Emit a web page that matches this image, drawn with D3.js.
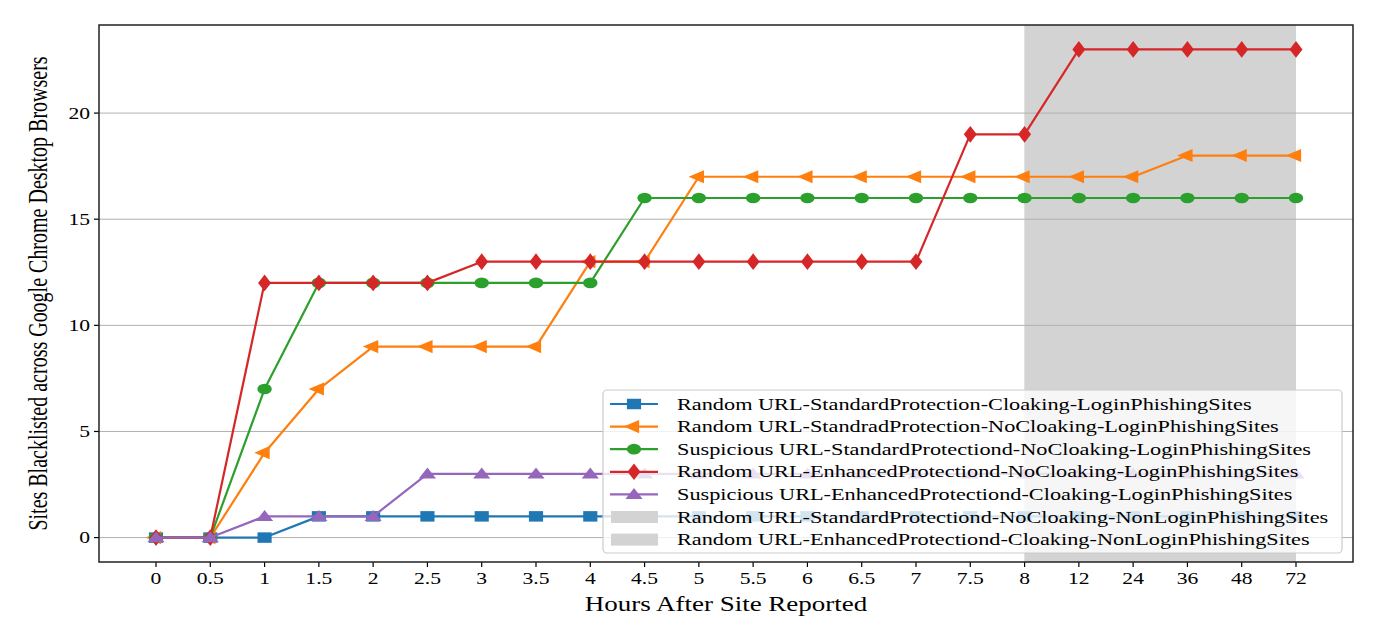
<!DOCTYPE html>
<html><head><meta charset="utf-8">
<script src="https://cdn.jsdelivr.net/npm/d3@7"></script>
<style>body{margin:0;background:#fff}svg{display:block}text{font-family:"Liberation Serif","Times New Roman",serif;fill:#000}</style>
</head><body><svg id="c" width="1373" height="634"></svg>
<script>
const xLabels = ["0","0.5","1","1.5","2","2.5","3","3.5","4","4.5","5","5.5","6","6.5","7","7.5","8","12","24","36","48","72"];
const yTicks = [0,5,10,15,20];
const seriesNames = [
  "Random URL-StandardProtection-Cloaking-LoginPhishingSites",
  "Random URL-StandradProtection-NoCloaking-LoginPhishingSites",
  "Suspicious URL-StandardProtectiond-NoCloaking-LoginPhishingSites",
  "Random URL-EnhancedProtectiond-NoCloaking-LoginPhishingSites",
  "Suspicious URL-EnhancedProtectiond-Cloaking-LoginPhishingSites"
];
const blueVals   = [0,0,0,1,1,1,1,1,1,1,1,1,1,1,1,1,1,1,1,1,1,1];
const orangeVals = [0,0,4,7,9,9,9,9,13,13,17,17,17,17,17,17,17,17,17,18,18,18];
const greenVals  = [0,0,7,12,12,12,12,12,12,16,16,16,16,16,16,16,16,16,16,16,16,16];
const redVals    = [0,0,12,12,12,12,13,13,13,13,13,13,13,13,13,19,19,23,23,23,23,23];
const purpleVals = [0,0,1,1,1,3,3,3,3,3,3,3,3,3,3,3,3,3,3,3,3,3];
const seriesColors = ["#1f77b4","#ff7f0e","#2ca02c","#d62728","#9467bd"];
const seriesMarkers = ["square","left","circle","diamond","triangle"];
const spanNames = [
  "Random URL-StandardProtectiond-NoCloaking-NonLoginPhishingSites",
  "Random URL-EnhancedProtectiond-Cloaking-NonLoginPhishingSites"
];
const spanStart = ["8","8"];
const spanEnd = ["72","72"];
const xTitle = "Hours After Site Reported";
const yTitle = "Sites Blacklisted across Google Chrome Desktop Browsers";

const SX = 1.35; // horizontal stretch of the reference image
const svg = d3.select("#c");
const L = 99, R = 1353, T = 25, B = 562;
const n = xLabels.length;
const x = d3.scaleLinear().domain([-0.05*(n-1), (n-1)*1.05]).range([L, R]);
const xi = lbl => x(xLabels.indexOf(lbl));
const y = d3.scaleLinear().domain([-1.15, 24.15]).range([B, T]);

// spans
svg.append("g").selectAll("rect").data(spanStart).join("rect")
  .attr("x", (d,i)=>xi(d)).attr("width",(d,i)=>xi(spanEnd[i])-xi(d))
  .attr("y", T).attr("height", B-T).attr("fill","#d3d3d3");

// grid
svg.append("g").selectAll("line").data(yTicks).join("line")
  .attr("x1",L).attr("x2",R).attr("y1",d=>y(d)).attr("y2",d=>y(d))
  .attr("stroke","#b0b0b0").attr("stroke-width",1);

function markerPath(type){
  switch(type){
    case "square": return d3.symbol(d3.symbolSquare,110)();
    case "circle": return d3.symbol(d3.symbolCircle,90)();
    case "diamond": return d3.symbol(d3.symbolDiamond,80)();
    case "triangle": return d3.symbol(d3.symbolTriangle,70)();
    case "left": return d3.symbol(d3.symbolTriangle,75)();
  }
}
function markerTransform(type,cx,cy){
  let t = `translate(${cx},${cy}) scale(${SX},1)`;
  if(type==="left") t += " rotate(-90)";
  if(type==="triangle") t += " translate(0,1)";
  return t;
}

const allVals = [blueVals, orangeVals, greenVals, redVals, purpleVals];
const line = d3.line().x((d,i)=>x(i)).y(d=>y(d));
allVals.forEach((vals,s)=>{
  const g = svg.append("g");
  g.append("path").attr("d", line(vals)).attr("fill","none")
    .attr("stroke", seriesColors[s]).attr("stroke-width",2.2).attr("stroke-linejoin","round");
  g.selectAll("path.m").data(vals).join("path").attr("class","m")
    .attr("d", markerPath(seriesMarkers[s]))
    .attr("transform",(d,i)=>markerTransform(seriesMarkers[s], x(i), y(d)))
    .attr("fill", seriesColors[s]);
});

// legend
const lg = svg.append("g");
const LX = 603, LY = 390, LW = 739, LH = 163, rowH = 22.6, row0 = 404;
lg.append("rect").attr("x",LX).attr("y",LY).attr("width",LW).attr("height",LH).attr("rx",4)
  .attr("fill","#fff").attr("fill-opacity",0.8).attr("stroke","#cccccc").attr("stroke-width",1.2);
seriesNames.forEach((nm,s)=>{
  const cy = row0 + s*rowH;
  lg.append("line").attr("x1",610).attr("x2",658).attr("y1",cy).attr("y2",cy)
    .attr("stroke",seriesColors[s]).attr("stroke-width",2.2);
  lg.append("path").attr("d",markerPath(seriesMarkers[s]))
    .attr("transform",markerTransform(seriesMarkers[s],634,cy)).attr("fill",seriesColors[s]);
  lg.append("text").attr("transform",`translate(677,${cy+5.5}) scale(${SX},1)`)
    .attr("font-size",16.5).text(nm);
});
spanNames.forEach((nm,k)=>{
  const cy = row0 + (seriesNames.length+k)*rowH;
  lg.append("rect").attr("x",611).attr("y",cy-6).attr("width",47).attr("height",12).attr("fill","#d3d3d3");
  lg.append("text").attr("transform",`translate(677,${cy+5.5}) scale(${SX},1)`)
    .attr("font-size",16.5).text(nm);
});

// axes ticks
const ax = svg.append("g");
xLabels.forEach((lbl,i)=>{
  ax.append("line").attr("x1",x(i)).attr("x2",x(i)).attr("y1",B).attr("y2",B+5).attr("stroke","#000").attr("stroke-width",1.2);
  ax.append("text").attr("transform",`translate(${x(i)},584) scale(${SX},1)`)
    .attr("text-anchor","middle").attr("font-size",16).text(lbl);
});
yTicks.forEach(v=>{
  ax.append("line").attr("x1",L-5).attr("x2",L).attr("y1",y(v)).attr("y2",y(v)).attr("stroke","#000").attr("stroke-width",1.2);
  ax.append("text").attr("transform",`translate(${L-9},${y(v)+5.5}) scale(${SX},1)`)
    .attr("text-anchor","end").attr("font-size",16).text(v);
});
// frame
svg.append("rect").attr("x",L).attr("y",T).attr("width",R-L).attr("height",B-T)
  .attr("fill","none").attr("stroke","#222").attr("stroke-width",1.5);

// titles
svg.append("text").attr("transform",`translate(${(L+R)/2},611) scale(${SX},1)`)
  .attr("text-anchor","middle").attr("font-size",20).text(xTitle);
svg.append("text").attr("transform",`translate(47,${(T+B)/2}) scale(${SX},1) rotate(-90)`)
  .attr("text-anchor","middle").attr("font-size",20).text(yTitle);
</script></body></html>
